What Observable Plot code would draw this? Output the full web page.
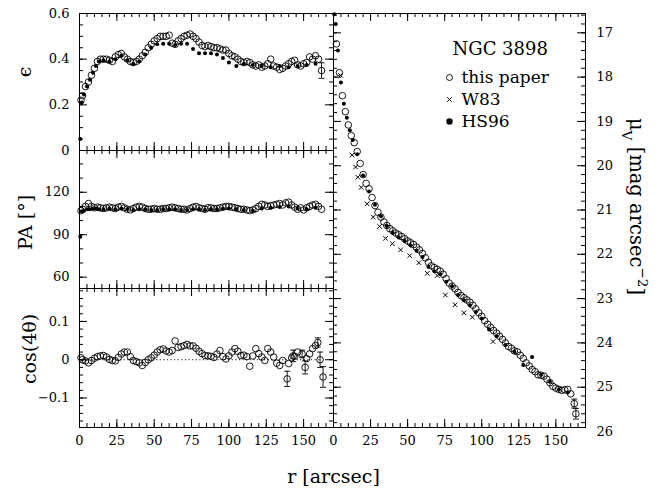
<!DOCTYPE html>
<html><head><meta charset="utf-8">
<script src="https://cdn.jsdelivr.net/npm/d3@7"></script>
<script src="https://cdn.jsdelivr.net/npm/@observablehq/plot@0.6"></script>
<style>
body{margin:0;background:#fff;}
#chart{position:relative;width:661px;height:490px;}
#chart svg{position:absolute;left:0;top:0;background:transparent !important;}
#chart svg text{font-family:'DejaVu Serif',serif;}
</style></head><body><div id="chart"></div>
<script>
// ---------- data ----------
// radii of "this paper" measurements [arcsec]
const rThis = [1,2,4,6,8,10,12,14,16,18,
  20,22,24,26,28,30,32,34,36,38,
  40,42,44,46,48,50,52,54,56,58,
  60,62,64,66,68,70,72,74,76,78,
  80,82,84,86,88,90,92,94,96,98,
  100,102,104,106,108,110,112,114,116,118,
  120,122,124,126,128,130,132,134,136,138,
  140,142,144,146,148,150,152,154,156,158,
  160,162];
const epsThis = [0.22,0.24,0.28,0.30,0.33,0.36,0.39,0.40,0.40,0.40,
  0.395,0.39,0.41,0.42,0.425,0.41,0.40,0.39,0.385,0.39,
  0.40,0.415,0.43,0.45,0.465,0.48,0.49,0.50,0.50,0.50,
  0.505,0.47,0.465,0.48,0.49,0.50,0.505,0.51,0.50,0.49,
  0.475,0.46,0.455,0.46,0.455,0.45,0.45,0.445,0.44,0.44,
  0.425,0.415,0.41,0.40,0.39,0.385,0.39,0.385,0.375,0.37,
  0.375,0.365,0.37,0.38,0.40,0.37,0.365,0.355,0.36,0.37,
  0.38,0.39,0.395,0.375,0.37,0.38,0.385,0.41,0.40,0.415,
  0.40,null];
const paThis = [107,108,110,112,110,109,109.5,109,108.5,109,
  109.5,109,108.5,109.5,110,109,108,107.5,108.5,109.5,
  110,109.5,108.5,108,108,108.5,108,108,108.5,108.5,
  109,109.5,109,108.5,108,108,107.5,108.5,109.5,110,
  109,108.5,108,109,109,108.5,108.5,109,109.5,110,
  110,109.5,109,108.5,108,108,107.5,107,107.5,108.5,
  110,111.5,111,110,110.5,111,111.5,112,111,112.5,
  113,111,109.5,108,109,107.5,109,110,111,111.5,
  110,108];
const cosThis = [0.005,0.0,-0.003,-0.008,-0.002,0.004,0.008,0.01,0.011,0.007,
  0.001,-0.002,-0.003,0.006,0.015,0.02,0.02,0.008,-0.002,-0.005,
  -0.008,-0.015,-0.007,0.0,0.005,0.012,0.02,0.026,0.028,0.023,
  0.02,0.024,0.049,0.032,0.034,0.037,0.04,0.036,0.036,0.03,
  0.022,0.016,0.011,0.01,0.009,0.006,0.015,0.024,0.008,0.002,
  0.01,0.02,0.029,0.022,0.011,0.012,0.008,-0.017,0.01,0.029,
  0.016,0.007,-0.002,0.029,0.02,0.007,-0.009,-0.015,-0.002,null,
  -0.01,0.005,0.009,0.02,null,null,0.003,0.015,0.029,0.037,
  null,null];
const muThis = [null,17.25,17.9,18.42,18.78,19.08,19.32,19.48,19.68,19.95,
  20.2,20.4,20.52,20.72,20.9,21.05,21.16,21.27,21.35,21.42,
  21.47,21.52,21.56,21.6,21.65,21.7,21.74,21.78,21.84,21.9,
  21.98,22.08,22.18,22.26,22.3,22.34,22.38,22.45,22.55,22.65,
  22.72,22.78,22.86,22.93,22.98,23.03,23.08,23.15,23.23,23.32,
  23.4,23.5,23.58,23.65,23.72,23.78,23.85,23.92,24.0,24.08,
  24.12,24.18,24.2,24.28,24.35,24.45,24.52,24.6,24.65,24.72,
  24.73,24.75,24.82,24.9,24.98,25.02,25.05,25.07,25.06,25.05,
  25.15,null];

// points with error bars (this paper)
const epsErrR = [162], epsErrV = [0.35], epsErrE = [0.034];
const cosErrR = [139,143,149,151,159.5,161,163];
const cosErrV = [-0.05,0.01,0.015,-0.02,0.045,0.0,-0.045];
const cosErrE = [0.02,0.015,0.01,0.017,0.012,0.02,0.027];
const muErrR = [162.4,163.5], muErrV = [25.37,25.6], muErrE = [0.1,0.12];

// HS96
const rHS = [0.5,1.5,3,5,7,9,11,13,16,20,24,28,32,36,40,44,48,52,56,60,
  64,68,72,76,80,84,88,92,96,100,105,110,116,122,128,134,140,146,152,158];
const epsHS = [0.05,0.21,0.245,0.28,0.31,0.34,0.37,0.39,0.395,0.39,0.40,0.415,0.395,0.38,0.39,0.42,0.45,0.465,0.467,0.467,
  0.462,0.467,0.467,0.445,0.426,0.426,0.426,0.42,0.405,0.385,0.37,0.38,0.375,0.37,0.365,0.37,0.365,0.37,0.375,0.38];
const paHS = [88.5,106.5,107,108,108,108.5,108.5,108,108,108.5,108,108.5,108,107.5,108,108,107.5,107.5,108,108,
  108,107.5,107.5,108,108,107.5,108,108,108.5,108.5,108,107.5,107,108.5,109,109.5,110,108.5,108,109];
const muHS = [16.58,16.8,17.4,18.12,18.6,18.92,19.2,19.42,19.74,20.22,20.58,20.88,21.14,21.36,21.52,21.62,21.7,21.8,21.92,22.06,
  22.28,22.38,22.45,22.62,22.72,22.92,23.04,23.15,23.3,23.45,23.7,23.85,24.05,24.2,24.5,24.32,24.72,24.88,25.05,25.12];

// W83
const rW83 = [4.7,12.6,14.9,16.4,18.7,22.7,26.8,31.1,35.1,39.7,45.3,51.4,57.6,63.3,70,75.5,82,88,93.7,107.6];
const muW83 = [17.96,19.76,20.03,20.26,20.49,20.86,21.16,21.37,21.64,21.76,21.90,22.03,22.19,22.43,22.48,22.92,23.14,23.32,23.42,23.97];

// ticks / labels
const rTicks = [0,25,50,75,100,125,150];
const epsTicks = [0,0.2,0.4,0.6];
const paTicks = [60,90,120];
const cosTicks = [-0.1,0,0.1];
const muTicks = [17,18,19,20,21,22,23,24,25,26];
const legendLabels = ["this paper","W83","HS96"];
const galaxy = "NGC 3898";

// ---------- layout ----------
const W = 661, H = 490;
const FONT = "DejaVu Serif";
const MAJ = 8, MIN = 4;
const xDomain = [0, 170];
const rMinor = d3.range(5, 170, 5);
const fmt = d => d < 0 ? "\u2212" + (-d) : String(d);

const tbl = (r, v) => r.map((x, i) => ({r: x, v: v[i]})).filter(d => d.v != null);
const errTbl = (r, v, e) => r.map((x, i) => ({r: x, v: v[i], lo: v[i] - e[i], hi: v[i] + e[i]}));
const cap = {draw(ctx, size) { const s = Math.sqrt(size / Math.PI); ctx.moveTo(-s, 0); ctx.lineTo(s, 0); }};

const openDots = (data) => Plot.dot(data, {x: "r", y: "v", r: 3.3, stroke: "#000", strokeWidth: 0.9, fill: "none"});
const fillDots = (data) => Plot.dot(data, {x: "r", y: "v", r: 2, fill: "#000", stroke: "none"});
const errMarks = (data) => [
  Plot.ruleX(data, {x: "r", y1: "lo", y2: "hi", stroke: "#000", strokeWidth: 0.9}),
  Plot.dot(data, {x: "r", y: "lo", symbol: cap, r: 3, stroke: "#000", strokeWidth: 0.9}),
  Plot.dot(data, {x: "r", y: "hi", symbol: cap, r: 3, stroke: "#000", strokeWidth: 0.9}),
  openDots(data)
];

function panel({left, right, top, bottom, yDomain, yReverse = false, yMajor, yMinor, axes = [], marks = []}) {
  const w = right - left, h = bottom - top;
  return Plot.plot({
    width: W, height: H,
    marginLeft: left, marginRight: W - right, marginTop: top, marginBottom: H - bottom,
    x: {domain: xDomain, axis: null},
    y: {domain: yDomain, reverse: yReverse, axis: null},
    style: {background: "transparent", fontFamily: FONT, overflow: "visible", color: "#000"},
    marks: [
      Plot.tickX(rTicks, {x: d => d, insetTop: h - MAJ, stroke: "#000"}),
      Plot.tickX(rTicks, {x: d => d, insetBottom: h - MAJ, stroke: "#000"}),
      Plot.tickX(rMinor, {x: d => d, insetTop: h - MIN, stroke: "#000"}),
      Plot.tickX(rMinor, {x: d => d, insetBottom: h - MIN, stroke: "#000"}),
      Plot.tickY(yMajor, {y: d => d, insetRight: w - MAJ, stroke: "#000"}),
      Plot.tickY(yMajor, {y: d => d, insetLeft: w - MAJ, stroke: "#000"}),
      Plot.tickY(yMinor, {y: d => d, insetRight: w - MIN, stroke: "#000"}),
      Plot.tickY(yMinor, {y: d => d, insetLeft: w - MIN, stroke: "#000"}),
      Plot.frame({stroke: "#000", strokeWidth: 1}),
      ...axes,
      ...marks
    ]
  });
}

const leftAxis = (ticks) => Plot.axisY({ticks, anchor: "left", tickSize: 0, tickPadding: 10, tickFormat: fmt, fontSize: 13, fontFamily: FONT, label: null});
const bottomAxis = () => Plot.axisX({ticks: rTicks, anchor: "bottom", tickSize: 0, tickPadding: 8, tickFormat: fmt, fontSize: 13, fontFamily: FONT, label: null});
const axisLabel = (text, frameAnchor, dx, dy, rotate, fontSize = 19) =>
  Plot.text([text], {text: d => d, frameAnchor, dx, dy, rotate, fontSize, fontFamily: FONT, fill: "#000", textAnchor: "middle", lineAnchor: "middle"});

const L = 79, M = 333, R = 585;
const T0 = 13, T1 = 150, T2 = 288, T3 = 427;

const pEps = panel({
  left: L, right: M, top: T0, bottom: T1,
  yDomain: [0, 0.6], yMajor: epsTicks, yMinor: d3.range(0.05, 0.6, 0.05),
  axes: [leftAxis(epsTicks), axisLabel("\u03f5", "left", -55, -10, -90)],
  marks: [openDots(tbl(rThis, epsThis)), fillDots(tbl(rHS, epsHS)), ...errMarks(errTbl(epsErrR, epsErrV, epsErrE))]
});

const pPA = panel({
  left: L, right: M, top: T1, bottom: T2,
  yDomain: [52, 149.5], yMajor: paTicks, yMinor: d3.range(60, 150, 10),
  axes: [leftAxis(paTicks), axisLabel("PA [\u00b0]", "left", -54, 3, -90)],
  marks: [openDots(tbl(rThis, paThis)), fillDots(tbl(rHS, paHS))]
});

const pCos = panel({
  left: L, right: M, top: T2, bottom: T3,
  yDomain: [-0.177, 0.186], yMajor: cosTicks, yMinor: d3.range(-0.16, 0.19, 0.02),
  axes: [leftAxis(cosTicks), bottomAxis(), axisLabel("cos(4\u03b8)", "left", -50, -9, -90),
         axisLabel("r [arcsec]", "bottom-right", 0, 49, 0)],
  marks: [
    Plot.ruleY([0], {x1: rThis[0], x2: d3.max(rThis), stroke: "#000", strokeWidth: 0.9, strokeDasharray: "1.2,2.4"}),
    openDots(tbl(rThis, cosThis)),
    ...errMarks(errTbl(cosErrR, cosErrV, cosErrE))
  ]
});

const legendMarks = legendLabels.flatMap((lab, i) => {
  const dy = 64 + 22 * i;
  const sym = i === 0 ? {symbol: "circle", r: 3, fill: "none", stroke: "#000", strokeWidth: 0.9}
            : i === 1 ? {symbol: "times", r: 2.2, stroke: "#000", strokeWidth: 1}
            : {symbol: "circle", r: 3.2, fill: "#000", stroke: "none"};
  return [
    Plot.dot([lab], {frameAnchor: "top-left", dx: 116, dy, ...sym}),
    Plot.text([lab], {text: d => d, frameAnchor: "top-left", dx: 128, dy, textAnchor: "start", lineAnchor: "middle", fontSize: 17, fontFamily: FONT, fill: "#000"})
  ];
});

const pMu = panel({
  left: M, right: R, top: T0, bottom: T3,
  yDomain: [16.564, 25.91], yReverse: true, yMajor: muTicks.filter(d => d < 25.91), yMinor: d3.range(16.6, 25.9, 0.2),
  axes: [
    Plot.axisY({ticks: muTicks, anchor: "right", tickSize: 0, tickPadding: 11, tickFormat: fmt, fontSize: 13, fontFamily: FONT, label: null}),
    bottomAxis(),
    axisLabel("\u03bcV [mag arcsec\u22122]", "right", 51, -14, 90, 19.5)
  ],
  marks: [
    Plot.text([galaxy], {text: d => d, frameAnchor: "top-left", dx: 119, dy: 36, textAnchor: "start", lineAnchor: "middle", fontSize: 18, fontFamily: FONT, fill: "#000"}),
    ...legendMarks,
    Plot.dot(tbl(rW83, muW83), {x: "r", y: "v", symbol: "times", r: 2.2, stroke: "#000", strokeWidth: 1}),
    openDots(tbl(rThis, muThis)),
    fillDots(tbl(rHS, muHS)),
    ...errMarks(errTbl(muErrR, muErrV, muErrE))
  ]
});

const chart = document.getElementById("chart");
[pEps, pPA, pCos, pMu].forEach(p => chart.appendChild(p));

// sub/superscripts in the surface-brightness label
d3.select(pMu).selectAll("text").filter(function() { return this.textContent === "\u03bcV [mag arcsec\u22122]"; })
  .each(function() {
    const t = d3.select(this);
    t.text(null);
    t.append("tspan").text("\u03bc");
    t.append("tspan").attr("baseline-shift", "sub").attr("font-size", "70%").text("V");
    t.append("tspan").text(" [mag arcsec");
    t.append("tspan").attr("baseline-shift", "super").attr("font-size", "70%").text("\u22122");
    t.append("tspan").text("]");
  });
</script>
</body></html>
